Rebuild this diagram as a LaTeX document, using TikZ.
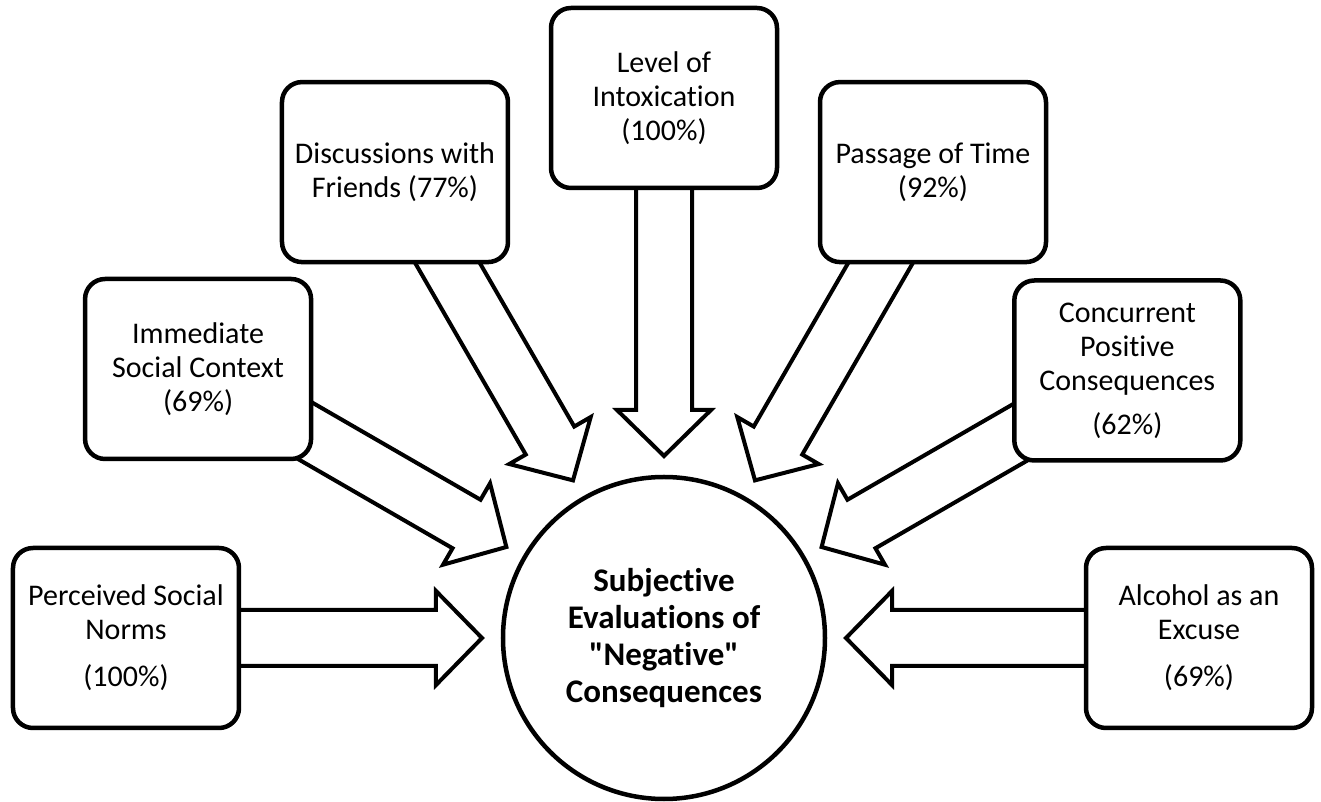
\documentclass[tikz,border=0pt]{standalone}
\usepackage{fontspec}
\setmainfont{Carlito}[Ligatures={TeXOff,NoCommon}]
\usetikzlibrary{calc,backgrounds}

\tikzset{
  factor/.style={draw, line width=4.5pt, rounded corners=20pt, fill=white,
    minimum width=226pt, minimum height=180pt, align=center,
    font=\fontsize{30}{34}\selectfont},
  outcome/.style={draw, circle, line width=4.5pt, fill=white, minimum size=322pt,
    inner sep=0pt, align=center, font=\fontsize{33}{37}\selectfont\bfseries},
  hollowarrow/.style={line width=4pt, line join=miter}
}

% hollow block arrow from a box towards the circle
\newcommand\bigarrow[2]{%
  \coordinate (tail) at (#1.center);
  \coordinate (tip) at ($(#2.center)!182pt!(#1.center)$);
  \coordinate (neck) at ($(tip)!46pt!(tail)$);
  \draw[hollowarrow] ($(tail)!28pt!90:(tip)$) -- ($(neck)!28pt!90:(tip)$)
    -- ($(neck)!47pt!90:(tip)$) -- (tip) -- ($(neck)!47pt!-90:(tip)$)
    -- ($(neck)!28pt!-90:(tip)$) -- ($(tail)!28pt!-90:(tip)$);
}

\begin{document}
\begin{tikzpicture}
  \useasboundingbox (-664pt,-164pt) rectangle (657pt,638pt);

  % centre circle
  \node[outcome] (subj) at (0,0) {Subjective\\Evaluations of\\"Negative"\\Consequences};

  % factor boxes on a half ring
  \node[factor] (norms) at (180:538pt) {Perceived Social\\Norms\\[13pt](100\%)};
  \node[factor] (context) at (150:538pt) {Immediate\\Social Context\\(69\%)};
  \node[factor] (friends) at (120:538pt) {Discussions with\\Friends (77\%)};
  \node[factor] (intox) at (90:540pt) {Level of\\Intoxication\\(100\%)};
  \node[factor] (time) at (60:538pt) {Passage of Time\\(92\%)};
  \node[factor] (positive) at (30:535pt) {Concurrent\\Positive\\Consequences\\[10pt](62\%)};
  \node[factor] (excuse) at (0:535pt) {Alcohol as an\\Excuse\\[13pt](69\%)};

  % arrows behind the boxes
  \begin{scope}[on background layer]
    \foreach \src in {norms,context,friends,intox,time,positive,excuse}
      \bigarrow{\src}{subj};
  \end{scope}
\end{tikzpicture}
\end{document}
